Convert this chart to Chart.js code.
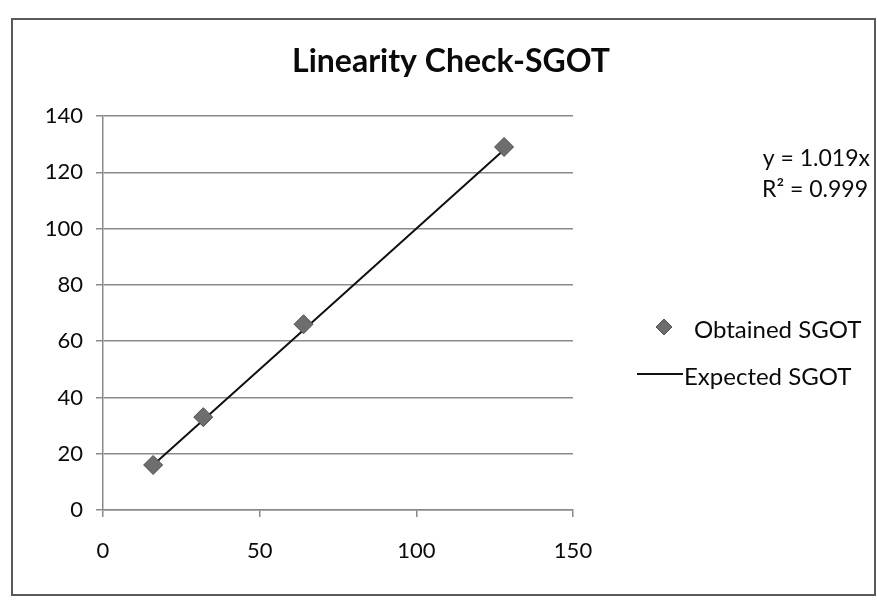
<!DOCTYPE html>
<html>
<head>
<meta charset="utf-8">
<script src="https://cdn.jsdelivr.net/npm/chart.js@4.4.1/dist/chart.umd.min.js"></script>
<style>
  html, body { margin: 0; padding: 0; background: #ffffff; }
  #wrap { width: 877px; height: 607px; position: relative; }
</style>
</head>
<body>
<div id="wrap"><canvas id="c"></canvas></div>
<script>
// ---- data ----
const chartTitle = "Linearity Check-SGOT";
const concentrations = [16, 32, 64, 128];
const obtainedSGOT = [16, 33, 66, 129];
const expectedSGOT = [16, 32, 64, 128];
const seriesNames = ["Obtained SGOT", "Expected SGOT"];
const trendLabels = ["y = 1.019x", "R\u00B2 = 0.999"];
const xTicks = [0, 50, 100, 150];
const yTicks = [0, 20, 40, 60, 80, 100, 120, 140];

const FONT = "Lato, 'Open Sans', 'Liberation Sans', sans-serif";
const markerFill = "#6e6e6e";
const markerBorder = "#4f4f4f";
const lineColor = "#111111";
const gridColor = "#8a8a8a";
const textColor = "#0a0a0a";

const toPoints = (xs, ys) => xs.map((x, i) => ({ x: x, y: ys[i] }));

const decorPlugin = {
  id: 'decor',
  beforeDraw(chart) {
    const ctx = chart.ctx;
    ctx.save();
    ctx.fillStyle = '#ffffff';
    ctx.fillRect(0, 0, chart.width, chart.height);
    ctx.restore();
  },
  afterDraw(chart) {
    const ctx = chart.ctx;
    ctx.save();
    // outer border
    ctx.strokeStyle = '#5a5a5a';
    ctx.lineWidth = 2;
    ctx.strokeRect(12, 19, 863, 576);
    // title
    ctx.fillStyle = textColor;
    ctx.font = "bold 32px " + FONT;
    ctx.textAlign = 'center';
    ctx.textBaseline = 'middle';
    ctx.fillText(chartTitle, 451, 62);
    // trendline equation
    ctx.font = "23px " + FONT;
    ctx.textAlign = 'right';
    ctx.fillText(trendLabels[0], 870, 159);
    ctx.fillText(trendLabels[1], 868, 190);
    // legend
    ctx.font = "24px " + FONT;
    ctx.textAlign = 'left';
    ctx.fillText(seriesNames[0], 694, 330);
    ctx.fillText(seriesNames[1], 684, 377);
    // legend diamond
    ctx.fillStyle = markerFill;
    ctx.strokeStyle = markerBorder;
    ctx.lineWidth = 1;
    ctx.beginPath();
    const cx = 664, cy = 327, r = 8;
    ctx.moveTo(cx, cy - r); ctx.lineTo(cx + r, cy); ctx.lineTo(cx, cy + r); ctx.lineTo(cx - r, cy); ctx.closePath();
    ctx.fill(); ctx.stroke();
    // legend line
    ctx.strokeStyle = lineColor;
    ctx.lineWidth = 2;
    ctx.beginPath();
    ctx.moveTo(637, 374); ctx.lineTo(683, 374);
    ctx.stroke();
    ctx.restore();
  }
};

new Chart(document.getElementById('c'), {
  type: 'scatter',
  data: {
    datasets: [
      {
        label: seriesNames[1],
        data: toPoints(concentrations, expectedSGOT),
        showLine: true,
        borderColor: lineColor,
        borderWidth: 2,
        pointRadius: 0,
        pointHoverRadius: 0,
        order: 2
      },
      {
        label: seriesNames[0],
        data: toPoints(concentrations, obtainedSGOT),
        showLine: false,
        pointStyle: 'rectRot',
        pointRadius: 9.5,
        backgroundColor: markerFill,
        borderColor: markerBorder,
        borderWidth: 1,
        order: 1
      }
    ]
  },
  options: {
    responsive: true,
    maintainAspectRatio: false,
    animation: false,
    layout: { padding: { left: 0, right: 304, top: 116, bottom: 0 } },
    plugins: {
      legend: { display: false },
      title: { display: false },
      tooltip: { enabled: false }
    },
    scales: {
      x: {
        type: 'linear',
        min: xTicks[0],
        max: xTicks[xTicks.length - 1],
        afterBuildTicks(scale) { scale.ticks = xTicks.map(v => ({ value: v })); },
        afterFit(scale) { scale.height = 97; },
        grid: { drawOnChartArea: false, drawTicks: true, tickLength: 7, color: gridColor, lineWidth: 1.5 },
        border: { color: gridColor, width: 1.5 },
        ticks: { color: textColor, font: { family: FONT, size: 22 }, padding: 21, maxRotation: 0 }
      },
      y: {
        type: 'linear',
        min: yTicks[0],
        max: yTicks[yTicks.length - 1],
        afterBuildTicks(scale) { scale.ticks = yTicks.map(v => ({ value: v })); },
        afterFit(scale) { scale.width = 103; },
        grid: { drawOnChartArea: true, drawTicks: true, tickLength: 7, color: gridColor, lineWidth: 1.5 },
        border: { color: gridColor, width: 1.5 },
        ticks: { color: textColor, font: { family: FONT, size: 22 }, padding: 13 }
      }
    }
  },
  plugins: [decorPlugin]
});
</script>
</body>
</html>
